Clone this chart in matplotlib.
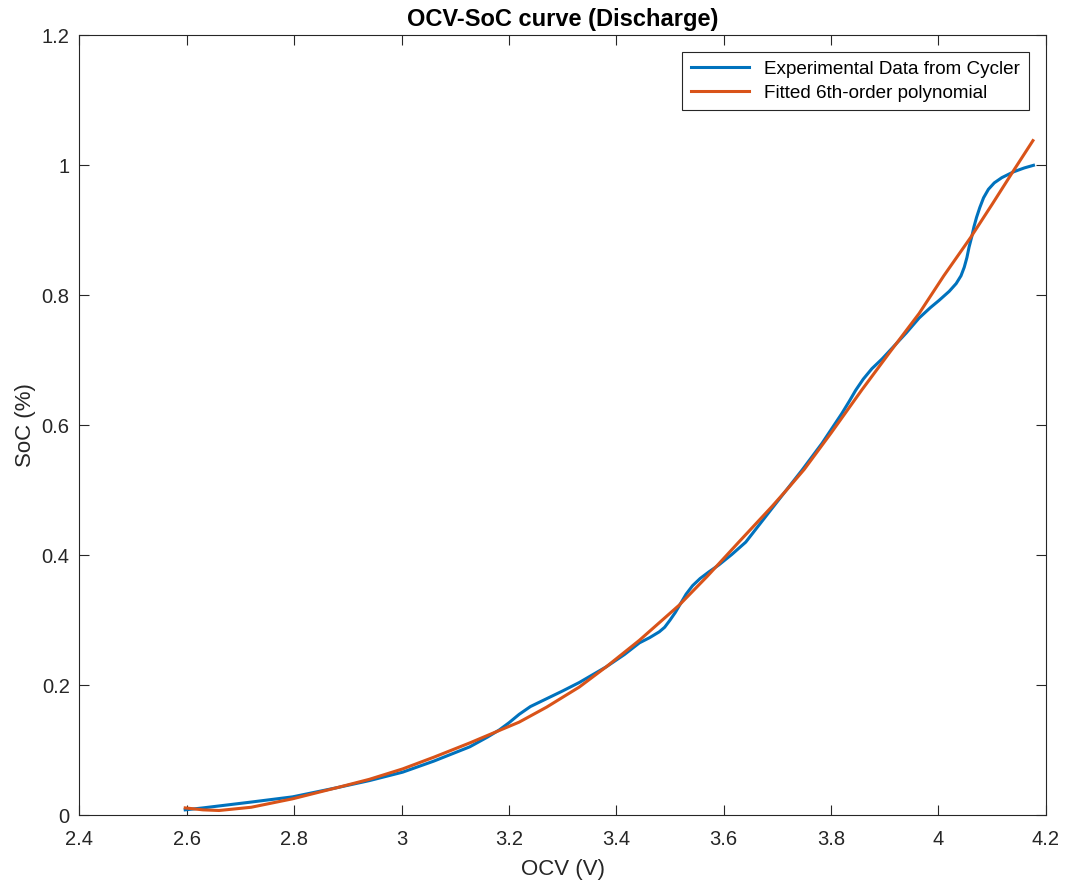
import matplotlib
matplotlib.use("Agg")
import matplotlib.pyplot as plt
from matplotlib.ticker import FuncFormatter

ocv_exp = [2.597, 2.63, 2.66, 2.72, 2.797, 2.879, 2.94, 3.002, 3.06, 3.127, 3.16,
           3.182, 3.2, 3.219, 3.24, 3.27, 3.3, 3.331, 3.381, 3.415, 3.443, 3.462,
           3.48, 3.49, 3.50, 3.51, 3.52, 3.53, 3.542, 3.556, 3.572, 3.591, 3.615,
           3.641, 3.69, 3.746, 3.783, 3.82, 3.834, 3.846, 3.86, 3.876, 3.895,
           3.913, 3.94, 3.964, 3.985, 4.001, 4.02, 4.033, 4.042, 4.048, 4.053,
           4.057, 4.062, 4.066, 4.071, 4.077, 4.084, 4.093, 4.104, 4.118, 4.14,
           4.16, 4.177]
soc_exp = [0.008, 0.011, 0.014, 0.020, 0.028, 0.042, 0.053, 0.066, 0.083, 0.105, 0.120,
           0.131, 0.142, 0.155, 0.167, 0.179, 0.191, 0.204, 0.228, 0.247, 0.265, 0.273,
           0.282, 0.289, 0.300, 0.312, 0.326, 0.340, 0.353, 0.364, 0.374, 0.385, 0.401,
           0.420, 0.472, 0.531, 0.572, 0.618, 0.637, 0.654, 0.671, 0.687, 0.702,
           0.718, 0.742, 0.765, 0.781, 0.792, 0.806, 0.818, 0.830, 0.843, 0.858,
           0.874, 0.890, 0.905, 0.920, 0.935, 0.950, 0.963, 0.973, 0.981, 0.990,
           0.996, 1.000]

# Fitted 6th-order polynomial
ocv_fit = [2.597, 2.63, 2.66, 2.72, 2.797, 2.879, 2.94, 3.002, 3.06, 3.127, 3.17,
           3.219, 3.27, 3.331, 3.381, 3.443, 3.517, 3.57, 3.628, 3.69, 3.72, 3.75,
           3.8, 3.857, 3.91, 3.964, 4.01, 4.06, 4.1, 4.14, 4.176]
soc_fit = [0.011, 0.008, 0.007, 0.012, 0.025, 0.042, 0.055, 0.071, 0.089, 0.111, 0.126,
           0.143, 0.166, 0.197, 0.228, 0.269, 0.323, 0.368, 0.420, 0.475, 0.503, 0.532,
           0.588, 0.654, 0.713, 0.772, 0.830, 0.889, 0.940, 0.992, 1.038]

plt.rcParams["font.family"] = ["Liberation Sans", "DejaVu Sans"]

fig = plt.figure(figsize=(10.65, 8.84), dpi=100)
ax = fig.add_axes([0.0746, 0.078, 0.9074, 0.882])

ax.plot(ocv_exp, soc_exp, color="#0072BD", lw=2.2,
        label="Experimental Data from Cycler")
ax.plot(ocv_fit, soc_fit, color="#D95319", lw=2.2,
        label="Fitted 6th-order polynomial")

ax.set_xlim(2.4, 4.2)
ax.set_ylim(0, 1.2)
ax.set_xticks([2.4, 2.6, 2.8, 3.0, 3.2, 3.4, 3.6, 3.8, 4.0, 4.2])
ax.set_yticks([0, 0.2, 0.4, 0.6, 0.8, 1.0, 1.2])
fmt = FuncFormatter(lambda v, p: f"{v:g}")
ax.xaxis.set_major_formatter(fmt)
ax.yaxis.set_major_formatter(fmt)

ax.tick_params(direction="in", length=7, width=0.8, top=True, right=True,
               labelsize=14.5, colors="#262626")
ax.tick_params(axis="x", pad=11)
ax.tick_params(axis="y", pad=7)
for s in ax.spines.values():
    s.set_color("#262626")
    s.set_linewidth(0.8)

ax.set_xlabel("OCV (V)", fontsize=16, color="#262626", labelpad=7)
ax.set_ylabel("SoC (%)", fontsize=16, color="#262626", labelpad=4)
ax.set_title("OCV-SoC curve (Discharge)", fontsize=17, fontweight="bold", pad=7)

leg = ax.legend(loc="upper right", bbox_to_anchor=(1 - 17 / 966, 1 - 17 / 780),
                borderaxespad=0, fontsize=13.6, fancybox=False, framealpha=1,
                handlelength=3.1, borderpad=0.45, labelspacing=0.35)
leg.get_frame().set_edgecolor("#262626")
leg.get_frame().set_linewidth(0.8)

fig.savefig("out.png", dpi=100)
